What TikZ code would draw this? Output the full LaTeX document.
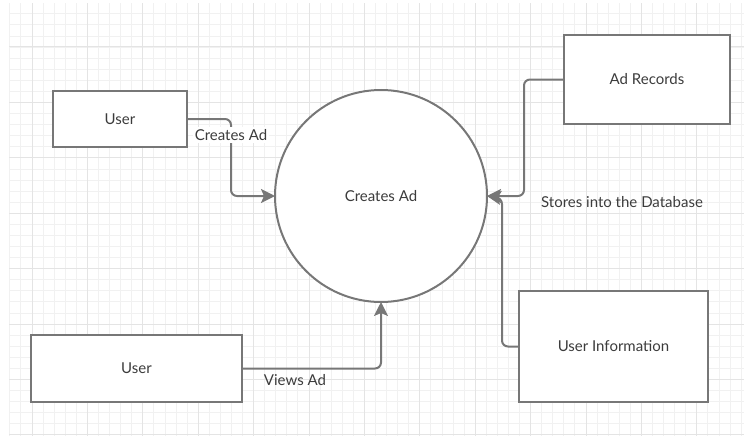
\documentclass[tikz,border=0pt]{standalone}
\usepackage{fontspec}
\setmainfont{Lato}
\usetikzlibrary{arrows.meta}

\definecolor{linegray}{HTML}{777777}
\definecolor{textgray}{HTML}{3C3C3C}
\definecolor{majorgrid}{HTML}{E4E4E4}
\definecolor{minorgrid}{HTML}{F1F1F1}

\tikzset{
  entity/.style={draw=linegray, line width=2pt, fill=white, outer sep=0pt,
    text=textgray, font=\fontsize{15}{18}\selectfont},
  process/.style={circle, draw=linegray, line width=2pt, fill=white,
    outer sep=0pt, minimum size=212pt, text=textgray, font=\fontsize{15}{18}\selectfont},
  flow/.style={draw=linegray, line width=2pt, rounded corners=6pt,
    -{Stealth[length=14pt, width=14pt, inset=3pt]}},
  lbl/.style={text=textgray, font=\fontsize{15}{18}\selectfont, inner sep=2pt},
}

\begin{document}
\begin{tikzpicture}[x=1pt, y=-1pt]
        \useasboundingbox (0,0) rectangle (744,436);

        % paper grid
        \begin{scope}
            \clip (9,4) rectangle (744,435);
            \foreach \k in {0,...,66}
                \draw[minorgrid, line width=0.8pt] (9.8+11.08*\k,0) -- ++(0,436);
            \foreach \k in {0,...,39}
                \draw[minorgrid, line width=0.8pt] (0,2.7+11.08*\k) -- ++(744,0);
            \foreach \k in {0,...,13}
                \draw[majorgrid, line width=1pt] (32+55.4*\k,0) -- ++(0,436);
            \foreach \k in {0,...,7}
                \draw[majorgrid, line width=1pt] (0,47+55.4*\k) -- ++(744,0);
        \end{scope}

        \node[process] (proc) at (381,196) {Creates Ad};
        \node[entity, minimum width=134pt, minimum height=56pt] (user1) at (120,119) {User};
        \node[entity, minimum width=166pt, minimum height=89pt] (adrec) at (647,79.5) {Ad Records};
        \node[entity, minimum width=211pt, minimum height=67pt] (user2) at (136.5,368.5) {User};
        \node[entity, minimum width=189pt, minimum height=111pt] (uinfo) at (613.5,346.5) {User Information};

        \coordinate (cx) at (231,196);
        \coordinate (ax) at (524,196);
        \coordinate (ux) at (502,198);

        \draw[flow] (user1.east) -| (cx) -- (proc.west);
        \draw[flow] (adrec.west) -| (ax) -- (proc.east);
        \draw[flow] (uinfo.west) -| (ux) -- (proc.east);
        \draw[flow] (user2.east) -| (proc.south);

        \node[lbl, fill=white] (l1) at (231,135) {Creates Ad};
        \node[lbl] (l2) at (295,380) {Views Ad};
        \node[lbl] (l3) at (622,202) {Stores into the Database};
    \end{tikzpicture}
\end{document}
